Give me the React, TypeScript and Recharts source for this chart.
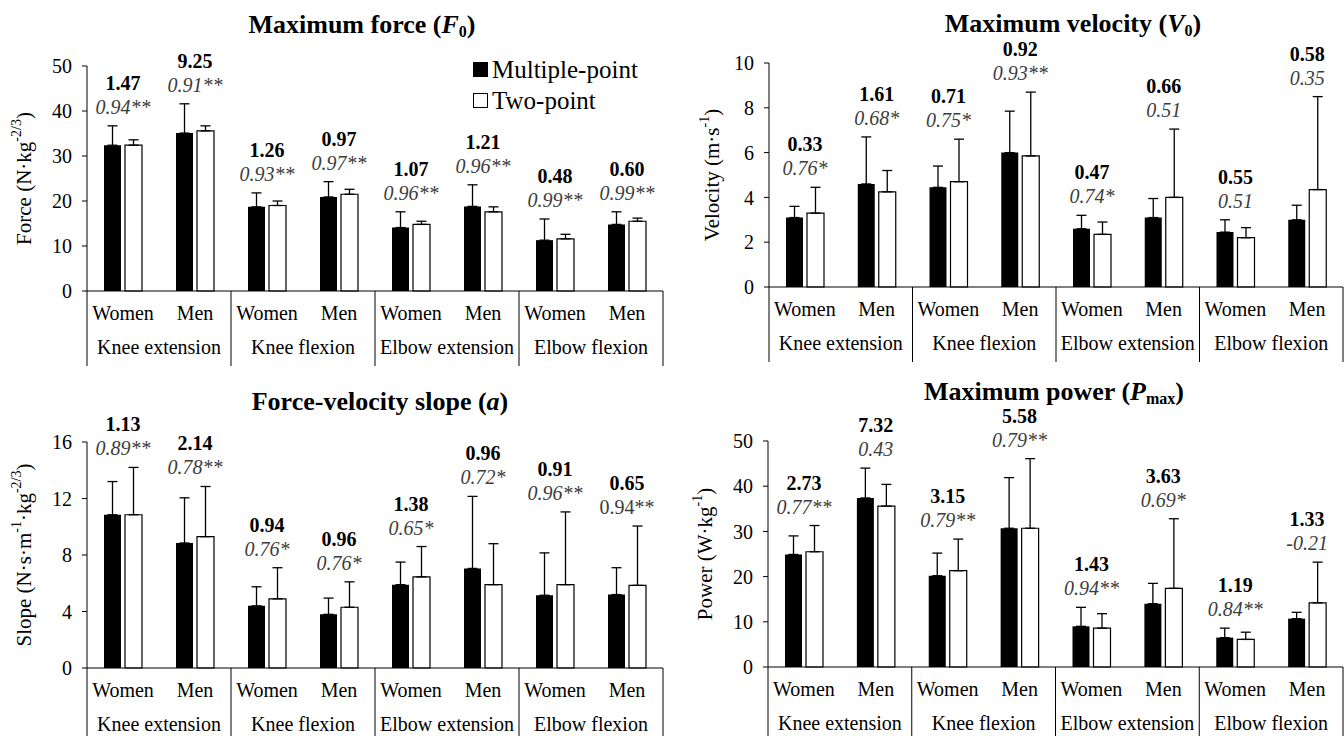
import React from "react";
import { ComposedChart, Bar, Line, XAxis, YAxis, ErrorBar, LabelList } from "recharts";

const FONT = '"Liberation Serif", "Times New Roman", serif';

const groups = ["Knee extension", "Knee flexion", "Elbow extension", "Elbow flexion"];
const sexes = ["Women", "Men"];

// Maximum force (F0)
const forceMultiple = [32.4, 35.1, 18.7, 20.9, 14.1, 18.8, 11.3, 14.8];
const forceMultipleSd = [4.3, 6.5, 3.1, 3.4, 3.5, 4.8, 4.7, 2.8];
const forceTwo = [32.4, 35.6, 19.0, 21.5, 14.8, 17.6, 11.6, 15.5];
const forceTwoSd = [1.2, 1.1, 1.0, 1.1, 0.7, 1.1, 1.0, 0.7];
const forceStat = ["1.47", "9.25", "1.26", "0.97", "1.07", "1.21", "0.48", "0.60"];
const forceR = ["0.94**", "0.91**", "0.93**", "0.97**", "0.96**", "0.96**", "0.99**", "0.99**"];

// Maximum velocity (V0)
const velMultiple = [3.1, 4.6, 4.45, 6.0, 2.6, 3.1, 2.45, 3.0];
const velMultipleSd = [0.5, 2.1, 0.95, 1.85, 0.6, 0.85, 0.55, 0.65];
const velTwo = [3.3, 4.25, 4.7, 5.85, 2.35, 4.0, 2.2, 4.35];
const velTwoSd = [1.15, 0.95, 1.9, 2.85, 0.55, 3.05, 0.45, 4.15];
const velStat = ["0.33", "1.61", "0.71", "0.92", "0.47", "0.66", "0.55", "0.58"];
const velR = ["0.76*", "0.68*", "0.75*", "0.93**", "0.74*", "0.51", "0.51", "0.35"];

// Force-velocity slope (a)
const slopeMultiple = [10.85, 8.85, 4.4, 3.8, 5.9, 7.05, 5.15, 5.2];
const slopeMultipleSd = [2.35, 3.2, 1.35, 1.15, 1.6, 5.1, 3.0, 1.9];
const slopeTwo = [10.85, 9.3, 4.9, 4.3, 6.45, 5.9, 5.9, 5.85];
const slopeTwoSd = [3.35, 3.55, 2.2, 1.8, 2.15, 2.9, 5.15, 4.2];
const slopeStat = ["1.13", "2.14", "0.94", "0.96", "1.38", "0.96", "0.91", "0.65"];
const slopeR = ["0.89**", "0.78**", "0.76*", "0.76*", "0.65*", "0.72*", "0.96**", "0.94**"];

// Maximum power (Pmax)
const powerMultiple = [24.9, 37.4, 20.2, 30.7, 9.0, 14.0, 6.5, 10.7];
const powerMultipleSd = [4.1, 6.6, 5.0, 11.2, 4.2, 4.5, 2.1, 1.4];
const powerTwo = [25.5, 35.6, 21.3, 30.7, 8.6, 17.4, 6.1, 14.2];
const powerTwoSd = [5.8, 4.8, 7.0, 15.4, 3.2, 15.4, 1.6, 9.0];
const powerStat = ["2.73", "7.32", "3.15", "5.58", "1.43", "3.63", "1.19", "1.33"];
const powerR = ["0.77**", "0.43", "0.79**", "0.79**", "0.94**", "0.69*", "0.84**", "-0.21"];

function buildRows(mp: number[], mpSd: number[], tp: number[], tpSd: number[]) {
  return mp.map((m, i) => ({
    key: i,
    sex: sexes[i % 2],
    group: groups[Math.floor(i / 2)],
    mp: m,
    mpErr: [0, mpSd[i]],
    tp: tp[i],
    tpErr: [0, tpSd[i]],
    top: Math.max(m + mpSd[i], tp[i] + tpSd[i]),
  }));
}

// two-level category axis: sex under each bar pair, exercise under each pair of pairs
const CategoryTick = (props: any) => {
  const { x, y, payload, band, rows, lineLen } = props;
  const i = payload.value as number;
  const row = rows[i];
  return (
    <g>
      <text x={x} y={y + 22} textAnchor="middle" dominantBaseline="central" fontFamily={FONT} fontSize={20} fill="#000">
        {row.sex}
      </text>
      {i % 2 === 0 && (
        <>
          <line x1={x - band / 2} x2={x - band / 2} y1={y} y2={y + lineLen} stroke="#000" strokeWidth={1} />
          <text x={x + band / 2} y={y + 56} textAnchor="middle" dominantBaseline="central" fontFamily={FONT} fontSize={20} fill="#000">
            {row.group}
          </text>
        </>
      )}
      {i === rows.length - 1 && (
        <line x1={x + band / 2} x2={x + band / 2} y1={y} y2={y + lineLen} stroke="#000" strokeWidth={1} />
      )}
    </g>
  );
};

const PairLabel = (props: any) => {
  const { index, stats, rs, plain } = props;
  const x = props.x ?? props.viewBox?.x;
  const y = props.y ?? props.viewBox?.y;
  return (
    <g>
      <text x={x} y={y - 36} textAnchor="middle" fontFamily={FONT} fontWeight="bold" fontSize={20} fill="#000">
        {stats[index]}
      </text>
      <text x={x} y={y - 12} textAnchor="middle" fontFamily={FONT} fontStyle={plain.includes(index) ? "normal" : "italic"} fontSize={20} fill="#3c3c3c">
        {rs[index]}
      </text>
    </g>
  );
};

const YTitle = (props: any) => {
  const { viewBox, labelX, parts } = props;
  const cx = viewBox.x + labelX;
  const cy = viewBox.y + viewBox.height / 2;
  return (
    <text x={cx} y={cy} transform={`rotate(-90 ${cx} ${cy})`} textAnchor="middle" dominantBaseline="central" fontFamily={FONT} fontSize={21} fill="#000">
      {parts.map((p: any, k: number) =>
        p.sup ? (
          <tspan key={k} dy={-8} fontSize={14}>{p.text}</tspan>
        ) : (
          <tspan key={k} dy={k > 0 && parts[k - 1].sup ? 8 : 0}>{p.text}</tspan>
        )
      )}
    </text>
  );
};

function Panel(props: any) {
  const { left, top, width, height, margin, yWidth, labelX, domain, ticks, rows, stats, rs, plain, yParts, xHeight } = props;
  const band = (width - margin.left - margin.right - yWidth) / rows.length;
  return (
    <div style={{ position: "absolute", left, top }}>
      <ComposedChart width={width} height={height} data={rows} margin={margin} barSize={17} barGap={4}>
        <XAxis
          dataKey="key"
          type="category"
          height={xHeight}
          tickSize={0}
          tickMargin={0}
          interval={0}
          axisLine={{ stroke: "#000", strokeWidth: 1 }}
          tickLine={false}
          tick={(p: any) => <CategoryTick {...p} band={band} rows={rows} lineLen={Math.min(75, xHeight)} />}
        />
        <YAxis
          width={yWidth}
          domain={domain}
          ticks={ticks}
          interval={0}
          tickSize={5}
          tickMargin={10}
          axisLine={{ stroke: "#000", strokeWidth: 1 }}
          tickLine={{ stroke: "#000" }}
          tick={{ fill: "#000", fontSize: 20, fontFamily: FONT }}
          label={<YTitle labelX={labelX} parts={yParts} />}
        />
        <Bar dataKey="mp" fill="#000" isAnimationActive={false}>
          <ErrorBar dataKey="mpErr" direction="y" width={5} stroke="#000" strokeWidth={1.3} />
        </Bar>
        <Bar dataKey="tp" fill="#fff" stroke="#000" strokeWidth={1.2} isAnimationActive={false}>
          <ErrorBar dataKey="tpErr" direction="y" width={5} stroke="#000" strokeWidth={1.3} />
        </Bar>
        <Line dataKey="top" stroke="none" dot={false} activeDot={false} isAnimationActive={false} legendType="none">
          <LabelList dataKey="top" content={(p: any) => <PairLabel {...p} stats={stats} rs={rs} plain={plain} />} />
        </Line>
      </ComposedChart>
    </div>
  );
}

const Title = ({ cx, cy, children }: any) => (
  <div
    style={{
      position: "absolute",
      left: cx - 250,
      top: cy - 11,
      width: 500,
      textAlign: "center",
      fontFamily: FONT,
      fontWeight: "bold",
      fontSize: 26,
      lineHeight: "22px",
      color: "#000",
    }}
  >
    {children}
  </div>
);

const subStyle: React.CSSProperties = { fontSize: 16, verticalAlign: "-4px", lineHeight: 0 };

export default function App() {
  const forceRows = buildRows(forceMultiple, forceMultipleSd, forceTwo, forceTwoSd);
  const velRows = buildRows(velMultiple, velMultipleSd, velTwo, velTwoSd);
  const slopeRows = buildRows(slopeMultiple, slopeMultipleSd, slopeTwo, slopeTwoSd);
  const powerRows = buildRows(powerMultiple, powerMultipleSd, powerTwo, powerTwoSd);

  return (
    <div style={{ position: "relative", width: 1344, height: 736, background: "#fff", overflow: "hidden" }}>
      <style>{"body{margin:0}"}</style>

      <Panel
        left={0} top={0} width={672} height={372} xHeight={81}
        margin={{ top: 66, right: 9, bottom: 0, left: 0 }} yWidth={87} labelX={24}
        domain={[0, 50]} ticks={[0, 10, 20, 30, 40, 50]}
        rows={forceRows} stats={forceStat} rs={forceR} plain={[]}
        yParts={[{ text: "Force (N·kg" }, { text: "-2/3", sup: true }, { text: ")" }]}
      />
      <Panel
        left={672} top={0} width={672} height={372} xHeight={85}
        margin={{ top: 63, right: 1, bottom: 0, left: 0 }} yWidth={97} labelX={40}
        domain={[0, 10]} ticks={[0, 2, 4, 6, 8, 10]}
        rows={velRows} stats={velStat} rs={velR} plain={[]}
        yParts={[{ text: "Velocity (m·s" }, { text: "-1", sup: true }, { text: ")" }]}
      />
      <Panel
        left={0} top={372} width={672} height={364} xHeight={68}
        margin={{ top: 70, right: 9, bottom: 0, left: 0 }} yWidth={87} labelX={24}
        domain={[0, 16]} ticks={[0, 4, 8, 12, 16]}
        rows={slopeRows} stats={slopeStat} rs={slopeR} plain={[7]}
        yParts={[{ text: "Slope (N·s·m" }, { text: "-1", sup: true }, { text: "·kg" }, { text: "-2/3", sup: true }, { text: ")" }]}
      />
      <Panel
        left={672} top={372} width={672} height={364} xHeight={69}
        margin={{ top: 69, right: 1, bottom: 0, left: 0 }} yWidth={96} labelX={33}
        domain={[0, 50]} ticks={[0, 10, 20, 30, 40, 50]}
        rows={powerRows} stats={powerStat} rs={powerR} plain={[]}
        yParts={[{ text: "Power (W·kg" }, { text: "-1", sup: true }, { text: ")" }]}
      />

      <Title cx={362} cy={25}>
        Maximum force (<i>F</i><sub style={subStyle}>0</sub>)
      </Title>
      <Title cx={1073} cy={24}>
        Maximum velocity (<i>V</i><sub style={subStyle}>0</sub>)
      </Title>
      <Title cx={380} cy={402}>
        Force-velocity slope (<i>a</i>)
      </Title>
      <Title cx={1054} cy={392}>
        Maximum power (<i>P</i><sub style={subStyle}>max</sub>)
      </Title>

      <div style={{ position: "absolute", left: 473, top: 54, fontFamily: FONT, fontSize: 25, lineHeight: "31px", color: "#000" }}>
        <div style={{ display: "flex", alignItems: "center" }}>
          <span style={{ width: 15, height: 15, background: "#000", display: "inline-block", marginRight: 4 }} />
          Multiple-point
        </div>
        <div style={{ display: "flex", alignItems: "center" }}>
          <span style={{ width: 13, height: 13, background: "#fff", border: "1px solid #000", display: "inline-block", marginRight: 4 }} />
          Two-point
        </div>
      </div>
    </div>
  );
}
